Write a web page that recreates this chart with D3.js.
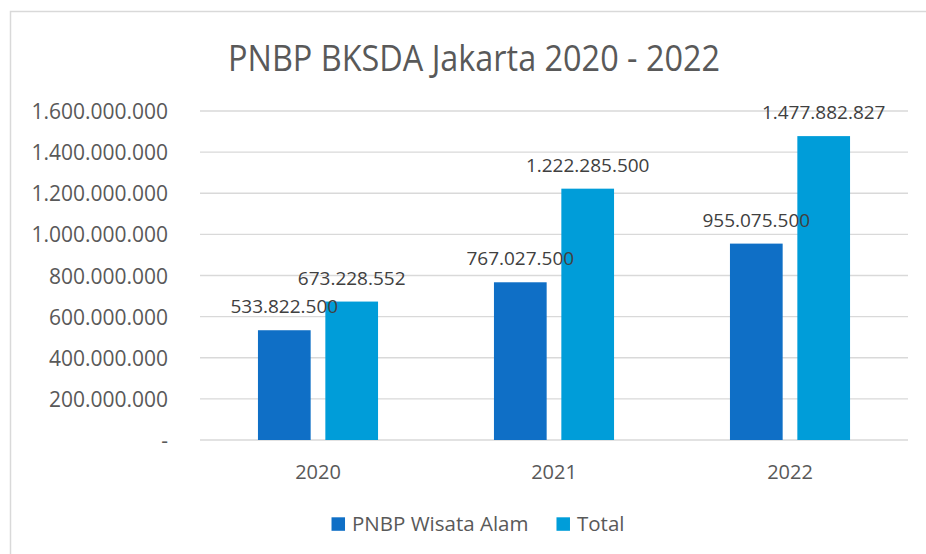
<!DOCTYPE html>
<html lang="id">
<head>
<meta charset="UTF-8">
<title>PNBP BKSDA Jakarta 2020 - 2022</title>
<style>
  body { margin: 0; background: #fff; }
  svg { display: block; font-family: "Open Sans", sans-serif; }
  .grid line { stroke: #d9d9d9; stroke-width: 1.3; }
  .tick-label { fill: #595959; font-size: 21px; }
  .cat-label { fill: #595959; font-size: 20px; }
  .val-label { fill: #404040; font-size: 19px; }
  .legend text { fill: #595959; font-size: 20.5px; }
</style>
<script src="https://cdnjs.cloudflare.com/ajax/libs/d3/7.8.5/d3.min.js"></script>
</head>
<body>
<div id="chart"></div>
<script>
// data
var years = ["2020", "2021", "2022"];
var seriesNames = ["PNBP Wisata Alam", "Total"];
var wisataAlam = [533822500, 767027500, 955075500];
var total = [673228552, 1222285500, 1477882827];
var yTicks = [0, 200000000, 400000000, 600000000, 800000000, 1000000000, 1200000000, 1400000000, 1600000000];

var colors = ["#0F6FC6", "#009DD9"];

var width = 926, height = 554;
var plot = {left: 200, right: 908, top: 111, bottom: 440};

var locale = d3.formatLocale({decimal: ",", thousands: ".", grouping: [3], currency: ["", ""]});
var fmt = locale.format(",d");

var svg = d3.select("#chart").append("svg")
    .attr("width", width)
    .attr("height", height);

// chart area border (runs off the right / bottom edge)
svg.append("rect")
    .attr("x", 10.5).attr("y", 11.5)
    .attr("width", 1000).attr("height", 1000)
    .attr("fill", "none")
    .attr("stroke", "#d9d9d9")
    .attr("stroke-width", 1.5);

// title
svg.append("text")
    .attr("x", 474).attr("y", 70.5)
    .attr("text-anchor", "middle")
    .attr("fill", "#595959")
    .attr("font-size", "37px")
    .attr("textLength", 492)
    .attr("lengthAdjust", "spacingAndGlyphs")
    .text("PNBP BKSDA Jakarta 2020 - 2022");

var y = d3.scaleLinear()
    .domain([0, 1600000000])
    .range([plot.bottom, plot.top]);

var x0 = d3.scaleBand()
    .domain(years)
    .range([plot.left, plot.right])
    .padding(0);

var x1 = d3.scaleBand()
    .domain(seriesNames)
    .range([0, x0.bandwidth()])
    .paddingInner(0.218)
    .paddingOuter(0.86);

// gridlines
var grid = svg.append("g").attr("class", "grid");
grid.selectAll("line")
    .data(yTicks)
    .enter().append("line")
    .attr("x1", plot.left).attr("x2", plot.right)
    .attr("y1", function(d) { return y(d); })
    .attr("y2", function(d) { return y(d); });

// y labels
svg.selectAll(".tick-label")
    .data(yTicks)
    .enter().append("text")
    .attr("class", "tick-label")
    .attr("x", 168)
    .attr("y", function(d) { return y(d) + 8; })
    .attr("text-anchor", "end")
    .text(function(d) { return d === 0 ? "-" : fmt(d); });

// bars
var rows = years.map(function(yr, i) {
  return {year: yr, values: [
    {name: seriesNames[0], value: wisataAlam[i], color: colors[0]},
    {name: seriesNames[1], value: total[i], color: colors[1]}
  ]};
});

var groups = svg.selectAll(".year")
    .data(rows)
    .enter().append("g")
    .attr("class", "year")
    .attr("transform", function(d) { return "translate(" + x0(d.year) + ",0)"; });

groups.selectAll("rect")
    .data(function(d) { return d.values; })
    .enter().append("rect")
    .attr("x", function(d) { return x1(d.name); })
    .attr("width", x1.bandwidth())
    .attr("y", function(d) { return y(d.value); })
    .attr("height", function(d) { return y(0) - y(d.value); })
    .attr("fill", function(d) { return d.color; });

groups.selectAll(".val-label")
    .data(function(d) { return d.values; })
    .enter().append("text")
    .attr("class", "val-label")
    .attr("x", function(d) { return x1(d.name) + x1.bandwidth() / 2; })
    .attr("y", function(d) { return y(d.value) - 17; })
    .attr("text-anchor", "middle")
    .text(function(d) { return fmt(d.value); });

// category labels
svg.selectAll(".cat-label")
    .data(years)
    .enter().append("text")
    .attr("class", "cat-label")
    .attr("x", function(d) { return x0(d) + x0.bandwidth() / 2; })
    .attr("y", 478.5)
    .attr("text-anchor", "middle")
    .text(function(d) { return d; });

// legend
var legend = svg.append("g").attr("class", "legend");
var sq = 13.5, gapTxt = 7, gapItem = 28;
var items = legend.selectAll("g")
    .data(seriesNames)
    .enter().append("g");
items.append("rect")
    .attr("width", sq).attr("height", sq)
    .attr("y", 517.3)
    .attr("fill", function(d, i) { return colors[i]; });
items.append("text")
    .attr("x", sq + gapTxt)
    .attr("y", 531)
    .text(function(d) { return d; });

var offsets = [], cur = 0;
items.each(function() {
  offsets.push(cur);
  cur += sq + gapTxt + d3.select(this).select("text").node().getComputedTextLength() + gapItem;
});
var legendW = cur - gapItem;
var legendX = 478 - legendW / 2;
items.attr("transform", function(d, i) { return "translate(" + (legendX + offsets[i]) + ",0)"; });
</script>
</body>
</html>
